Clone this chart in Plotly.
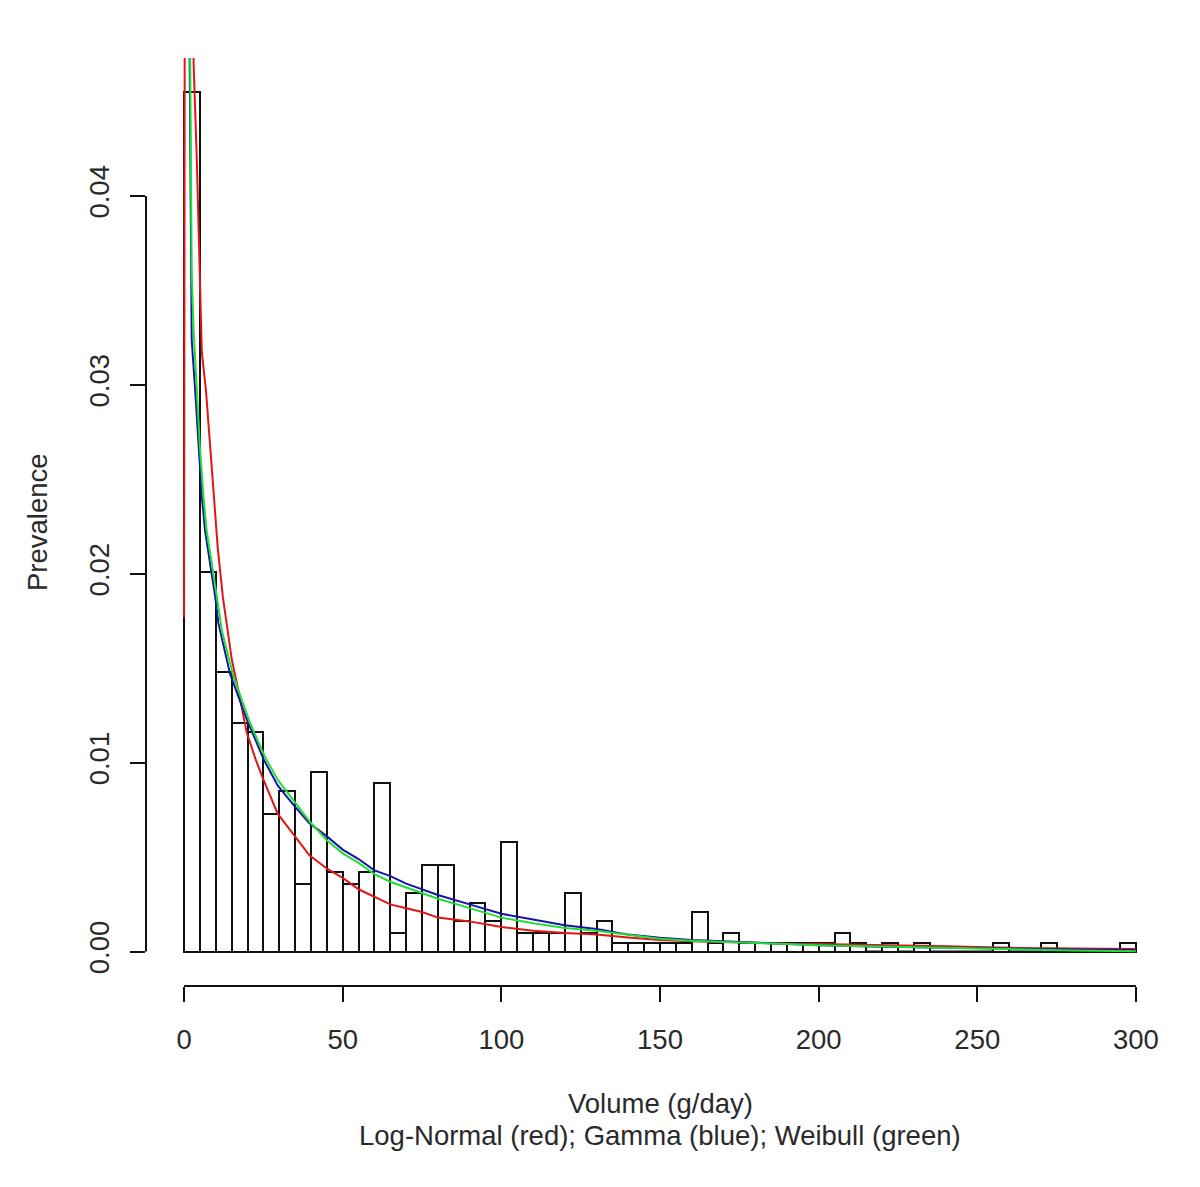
import plotly.graph_objects as go

# ---------------- data ----------------
bin_width = 5
bin_starts = list(range(0, 300, 5))
prevalence = [
    0.0455, 0.0201, 0.0148, 0.0121, 0.0116, 0.0073, 0.0085, 0.0036, 0.0095, 0.0042,
    0.0036, 0.0042, 0.0089, 0.0010, 0.0031, 0.0046, 0.0046, 0.0016, 0.0026, 0.0016,
    0.0058, 0.0010, 0.0010, 0.0010, 0.0031, 0.0010, 0.0016, 0.00046, 0.00046, 0.00046,
    0.00046, 0.00046, 0.0021, 0.00046, 0.0010, 0.00046, 0.00046, 0.00046, 0.00046, 0.00046,
    0.00046, 0.0010, 0.00046, 0.0, 0.00046, 0.0, 0.00046, 0.0, 0.0, 0.0,
    0.0, 0.00046, 0.0, 0.0, 0.00046, 0.0, 0.0, 0.0, 0.0, 0.00046,
]

lognorm_x = [0, 0.4, 2.5, 3.0, 4.0, 5.0, 5.6, 6.9, 8.2, 9.5, 10.6, 12.2, 13.5, 15, 17.5,
             19.75, 22.5, 25, 29.5, 34.8, 39.5, 45, 50, 55, 60, 65, 70, 75, 80, 90,
             100, 110, 120, 130, 140, 150, 160, 170, 180, 190, 200, 210, 220, 240, 260,
             280, 300]
lognorm_y = [0.0177, 0.08, 0.08, 0.047, 0.042, 0.036, 0.0317, 0.0297, 0.0267, 0.0241,
             0.0214, 0.0188, 0.0172, 0.0155, 0.0135, 0.0116, 0.0102, 0.0091, 0.0073,
             0.0061, 0.0051, 0.0044, 0.0039, 0.0033, 0.0029, 0.0025, 0.0023, 0.0021,
             0.0018, 0.0016, 0.0013, 0.0011, 0.00098, 0.0009, 0.00075, 0.00062, 0.00055,
             0.0005, 0.00046, 0.00042, 0.0004, 0.00038, 0.00033, 0.00028, 0.0002,
             0.00017, 0.00014]

gamma_x = [1.2, 2.4, 3.5, 4.5, 5.6, 6.6, 8.2, 9.8, 10.8, 14.5, 19.75, 25, 29.5, 34.8,
           39.5, 45, 50, 55, 60, 65, 70, 75, 80, 90, 100, 110, 120, 130, 140, 150, 160,
           170, 180, 190, 200, 220, 240, 260, 280, 300]
gamma_y = [0.06, 0.0324, 0.0297, 0.0267, 0.0241, 0.0223, 0.0206, 0.0188, 0.0174, 0.0147,
           0.0123, 0.0102, 0.0088, 0.0077, 0.0068, 0.0061, 0.0054, 0.0049, 0.0043,
           0.0040, 0.0036, 0.0033, 0.0030, 0.0025, 0.0020, 0.0017, 0.0014, 0.0012,
           0.0009, 0.00074, 0.00062, 0.00055, 0.00048, 0.0004, 0.00034, 0.00026,
           0.0002, 0.00015, 0.00011, 0.00008]

weibull_x = [1.4, 2.4, 3.0, 4.0, 5.0, 6.1, 7.1, 8.7, 10.3, 11.9, 13.4, 15.5, 20.8, 25.5,
             29.5, 34.8, 39.5, 45, 50, 55, 60, 65, 70, 75, 80, 90, 100, 110, 120, 130,
             140, 150, 160, 170, 180, 190, 200, 220, 240, 260, 280, 300]
weibull_y = [0.06, 0.036, 0.0329, 0.0294, 0.0267, 0.0241, 0.0223, 0.0206, 0.0188, 0.017,
             0.0160, 0.0146, 0.0121, 0.0103, 0.0091, 0.0079, 0.0069, 0.0059, 0.0052,
             0.0047, 0.0041, 0.0037, 0.0034, 0.0031, 0.0028, 0.0023, 0.0018, 0.0015,
             0.00125, 0.0011, 0.0009, 0.00068, 0.00058, 0.0005, 0.00045, 0.0004,
             0.00034, 0.00027, 0.0002, 0.00012, 0.00006, 0.00002]

x_ticks = [0, 50, 100, 150, 200, 250, 300]
y_ticks = [0.00, 0.01, 0.02, 0.03, 0.04]
y_tick_text = ["0.00", "0.01", "0.02", "0.03", "0.04"]

x_title = "Volume (g/day)"
x_subtitle = "Log-Normal (red); Gamma (blue); Weibull (green)"
y_title = "Prevalence"

# ---------------- figure ----------------
FONT = "Liberation Sans, Arial, sans-serif"
TXT = "#2a2a2a"
FS = 27.5

centers = [s + bin_width / 2 for s in bin_starts]

fig = go.Figure()
fig.add_trace(go.Bar(
    x=centers, y=prevalence, width=bin_width,
    marker=dict(color="white", line=dict(color="#111111", width=2)),
    hoverinfo="x+y", showlegend=False,
))
fig.add_trace(go.Scatter(x=lognorm_x, y=lognorm_y, mode="lines",
                         line=dict(color="#e01515", width=2), showlegend=False))
fig.add_trace(go.Scatter(x=gamma_x, y=gamma_y, mode="lines",
                         line=dict(color="#1515a8", width=2), showlegend=False))
fig.add_trace(go.Scatter(x=weibull_x, y=weibull_y, mode="lines",
                         line=dict(color="#22dd33", width=2), showlegend=False))

ymax = 0.0473
ymin = -0.00182
# the page body adds an 8px offset, so margins are reduced by 8 on the left/top
fig.update_layout(
    width=1200, height=1187,
    margin=dict(l=138, r=34, t=50, b=209, pad=0),
    paper_bgcolor="white", plot_bgcolor="white",
    bargap=0,
    font=dict(family=FONT, size=FS, color=TXT),
    xaxis=dict(range=[-12, 312], tickvals=x_ticks, ticktext=[str(v) for v in x_ticks],
               ticks="outside", ticklen=15, tickwidth=2, tickcolor="#111111",
               showgrid=False, zeroline=False, showline=False,
               ticklabelstandoff=14, tickfont=dict(size=FS, color=TXT, family=FONT)),
    yaxis=dict(range=[ymin, ymax], tickvals=y_ticks, ticktext=y_tick_text,
               ticks="outside", ticklen=15, tickwidth=2, tickcolor="#111111",
               tickangle=-90, showgrid=False, zeroline=False, showline=False,
               ticklabelstandoff=10, tickfont=dict(size=FS, color=TXT, family=FONT)),
    shapes=[
        dict(type="line", xref="x", yref="paper", x0=x_ticks[0], x1=x_ticks[-1], y0=0, y1=0,
             line=dict(color="#111111", width=2)),
        dict(type="line", xref="paper", yref="y", x0=0, x1=0, y0=y_ticks[0], y1=y_ticks[-1],
             line=dict(color="#111111", width=2)),
        dict(type="line", xref="x", yref="y", x0=bin_starts[0], x1=bin_starts[-1] + bin_width,
             y0=0, y1=0, line=dict(color="#111111", width=2), layer="below"),
    ],
    annotations=[
        dict(text=x_title, xref="paper", yref="paper", x=0.5, y=(986 - 1103) / 928,
             showarrow=False, xanchor="center", yanchor="middle",
             font=dict(size=FS, color=TXT, family=FONT)),
        dict(text=x_subtitle, xref="paper", yref="paper", x=0.5, y=(986 - 1135) / 928,
             showarrow=False, xanchor="center", yanchor="middle",
             font=dict(size=FS, color=TXT, family=FONT)),
        dict(text=y_title, xref="paper", yref="paper", x=(37 - 146) / 1028, y=0.5,
             showarrow=False, xanchor="center", yanchor="middle", textangle=-90,
             font=dict(size=FS, color=TXT, family=FONT)),
    ],
)

fig.write_html("out.html")
